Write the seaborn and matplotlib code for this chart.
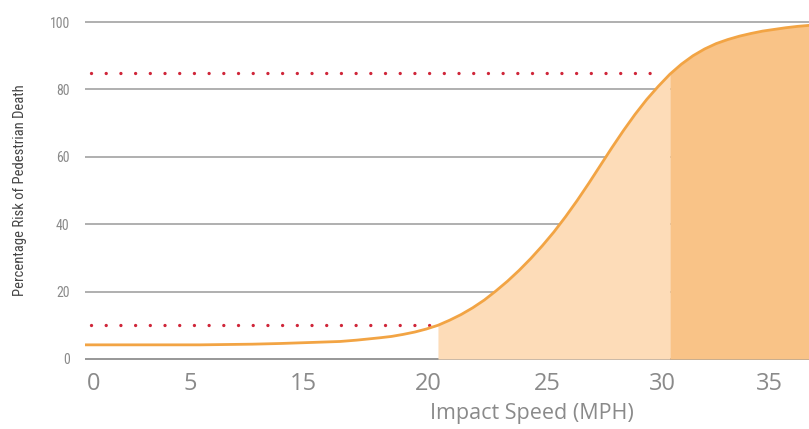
import matplotlib
matplotlib.use("Agg")
import matplotlib.pyplot as plt
from matplotlib import font_manager
import seaborn as sns
import numpy as np
import pandas as pd

# ---- data ----
speed = [4.78, 7.0, 9.74, 12.0, 13.19, 14.5, 15.78, 16.5, 17.5, 18.0, 18.5, 19.0,
         19.5, 20.0, 20.5, 21.0, 21.5, 22.0, 22.5, 23.0, 23.5, 24.0, 24.5, 25.0,
         25.5, 26.0, 26.5, 27.0, 27.5, 28.0, 28.5, 29.0, 29.5, 30.0, 30.5, 31.0,
         31.5, 32.0, 32.5, 33.0, 33.5, 34.0, 34.5, 35.0, 35.5, 36.0]
risk = [4.2, 4.2, 4.2, 4.4, 4.6, 4.9, 5.2, 5.6, 6.3, 6.7, 7.3, 8.0,
        8.9, 10.0, 11.5, 13.2, 15.2, 17.5, 20.2, 23.1, 26.3, 29.8, 33.6, 37.7,
        42.2, 47.0, 52.1, 57.4, 62.7, 67.8, 72.6, 77.0, 80.9, 84.5, 87.5, 90.0,
        92.0, 93.6, 94.8, 95.8, 96.6, 97.3, 97.8, 98.3, 98.7, 99.0]
tick_labels = ["0", "5", "15", "20", "25", "30", "35"]
ref_levels = [10, 85]          # dotted reference lines (percent)
ref_ends = [20.0, 29.4]        # speed where each dotted line meets the curve
band_edges = [20.0, 30.0]      # shaded speed bands

df = pd.DataFrame({"speed": speed, "risk": risk})

# ---- layout / style ----
W, H = 809, 429
sns.set_style("white")
plt.rcParams["font.family"] = ["DejaVu Sans"]
names = {f.name for f in font_manager.fontManager.ttflist}
narrow = "DejaVu Sans"
for cand in ["Liberation Sans Narrow", "DejaVu Sans Condensed", "Roboto Condensed",
             "Open Sans Condensed"]:
    if cand in names:
        narrow = cand
        break

fig = plt.figure(figsize=(W / 100, H / 100), dpi=100)

ppu = (359 - 22) / 100.0
bottom_px = (H - 359) - 0.5 * ppu
top_px = (H - 22) + 0.5 * ppu
ax = fig.add_axes([85 / W, bottom_px / H, 1 - 85 / W, (top_px - bottom_px) / H])
ax.set_xlim(4.78, 36.0)
ax.set_ylim(-0.5, 100.5)

for v in [0, 20, 40, 60, 80, 100]:
    ax.axhline(v, color="#a9a9a9" if v else "#8f8f8f", lw=1.3, zorder=1)

s = np.array(speed); r = np.array(risk)
ax.fill_between(s, 0, r, where=(s >= band_edges[0]) & (s <= band_edges[1]),
                color="#fddcb8", lw=0, zorder=2)
ax.fill_between(s, 0, r, where=(s >= band_edges[1]),
                color="#f9c387", lw=0, zorder=2)

sns.lineplot(data=df, x="speed", y="risk", ax=ax, color="#f2a444", lw=2.0,
             zorder=4, sort=True, estimator=None)
ax.lines[-1].set_solid_joinstyle("round")

for lvl, end in zip(ref_levels, ref_ends):
    ax.plot([5.05, end], [lvl, lvl], color="#cf2639", lw=2.4,
            linestyle=(0, (0.01, 4.4)), dash_capstyle="round", zorder=3)

tick_pos = [5.15, 9.3, 14.2, 19.6, 24.7, 29.7, 34.3]
ax.set_xticks(tick_pos)
ax.set_xticklabels(tick_labels, fontsize=17, color="#8a8a8a", family="Open Sans")
ax.set_yticks([0, 20, 40, 60, 80, 100])
ax.set_yticklabels(["0", "20", "40", "60", "80", "100"], fontsize=10,
                   color="#8a8a8a", family=narrow)
ax.tick_params(axis="x", length=0, pad=8)
ax.tick_params(axis="y", length=0, pad=11)
ax.set_xlabel("")
ax.set_ylabel("")
for sp in ax.spines.values():
    sp.set_visible(False)

ylab_size = 10.5 if narrow != "DejaVu Sans" else 8.3
fig.text(20 / W, 1 - 190 / H, "Percentage Risk of Pedestrian Death", rotation=90,
         ha="center", va="center", fontsize=ylab_size, color="#444444",
         family=narrow)
fig.text(532 / W, 1 - 413 / H, "Impact Speed (MPH)", ha="center", va="center",
         fontsize=15.5, color="#8a8a8a", family="Open Sans")

fig.savefig("out.png", dpi=100)
